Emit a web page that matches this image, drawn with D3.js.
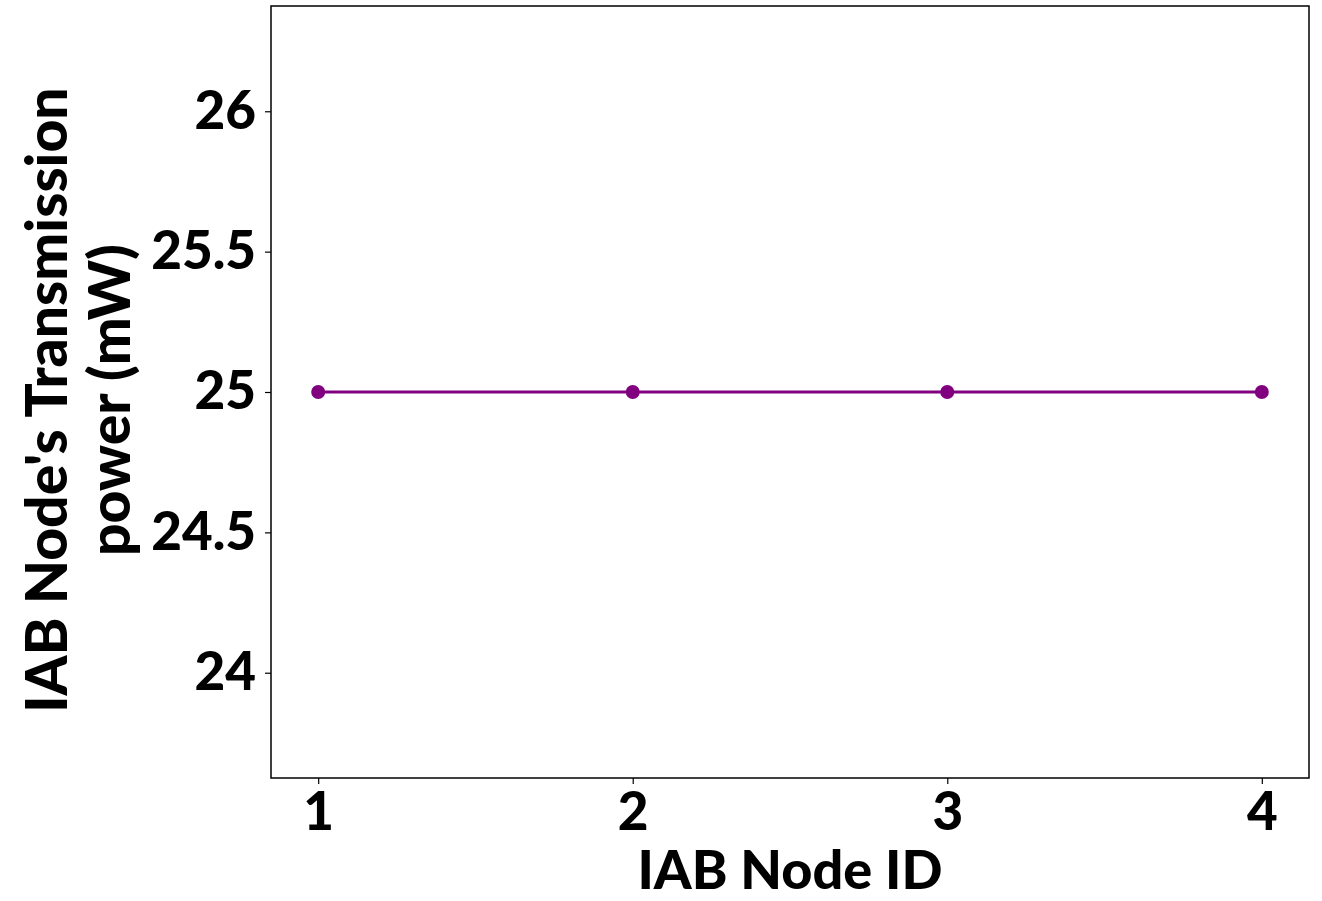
<!DOCTYPE html>
<html>
<head>
<meta charset="utf-8">
<script src="https://cdn.jsdelivr.net/npm/d3@7"></script>
<style>
  html, body { margin: 0; padding: 0; background: #fff; }
  svg { display: block; font-family: Lato, "Open Sans", sans-serif; font-weight: 900; }
</style>
</head>
<body>
<svg id="svg" width="1322" height="901"></svg>
<script>
const nodeIds = [1, 2, 3, 4]
const txPower = [25, 25, 25, 25]
const yTicks = [24, 24.5, 25, 25.5, 26]
const xLabel = 'IAB Node ID'
const yLabelLines = ["IAB Node's Transmission", 'power (mW)']

const $svg = d3.select('#svg')

const plot = { left: 271, right: 1309, top: 6, bottom: 778 }

const scaleX = d3.scaleLinear()
	.domain([0.85, 4.15])
	.range([plot.left, plot.right])

const scaleY = d3.scaleLinear()
	.domain([23.625, 26.375])
	.range([plot.bottom, plot.top])

// axes
const xAxis = d3.axisBottom(scaleX)
	.tickValues(nodeIds)
	.tickFormat(d3.format('d'))
	.tickSize(6)
	.tickPadding(8)

const yAxis = d3.axisLeft(scaleY)
	.tickValues(yTicks)
	.tickFormat(d => String(d))
	.tickSize(6)
	.tickPadding(9)

const styleTicks = $g => {
	$g.select('.domain').remove()
	$g.selectAll('text')
		.attr('font-size', 53)
		.attr('font-family', 'Lato, sans-serif')
		.attr('font-weight', 900)
		.attr('fill', '#000')
	$g.selectAll('line').attr('stroke', '#000').attr('stroke-width', 1.2)
}

$svg.append('g')
	.attr('transform', `translate(0,${plot.bottom})`)
	.call(xAxis)
	.call(styleTicks)

$svg.append('g')
	.attr('transform', `translate(${plot.left},0)`)
	.call(yAxis)
	.call(styleTicks)

// frame
$svg.append('rect')
	.attr('x', plot.left)
	.attr('y', plot.top)
	.attr('width', plot.right - plot.left)
	.attr('height', plot.bottom - plot.top)
	.attr('fill', 'none')
	.attr('stroke', '#000')
	.attr('stroke-width', 1.5)

// series
const points = nodeIds.map((id, i) => ({ x: scaleX(id), y: scaleY(txPower[i]) }))

const drawLine = d3.line()
	.x(d => d.x)
	.y(d => d.y)

$svg.append('path')
	.attr('d', drawLine(points))
	.attr('stroke', '#800080')
	.attr('stroke-width', 3)
	.attr('fill', 'none')

$svg.selectAll('circle.pt')
	.data(points)
	.join('circle')
	.attr('class', 'pt')
	.attr('cx', d => d.x)
	.attr('cy', d => d.y)
	.attr('r', 7)
	.attr('fill', '#800080')

// labels
$svg.append('text')
	.attr('x', (plot.left + plot.right) / 2)
	.attr('y', 889)
	.attr('text-anchor', 'middle')
	.attr('font-size', 54)
	.attr('fill', '#000')
	.text(xLabel)

const $yl = $svg.append('text')
	.attr('transform', `translate(67,400) rotate(-90)`)
	.attr('text-anchor', 'middle')
	.attr('font-size', 57)
	.attr('fill', '#000')
yLabelLines.forEach((line, i) => {
	$yl.append('tspan')
		.attr('x', 0)
		.attr('dy', i === 0 ? 0 : 63)
		.text(line)
})
</script>
</body>
</html>
